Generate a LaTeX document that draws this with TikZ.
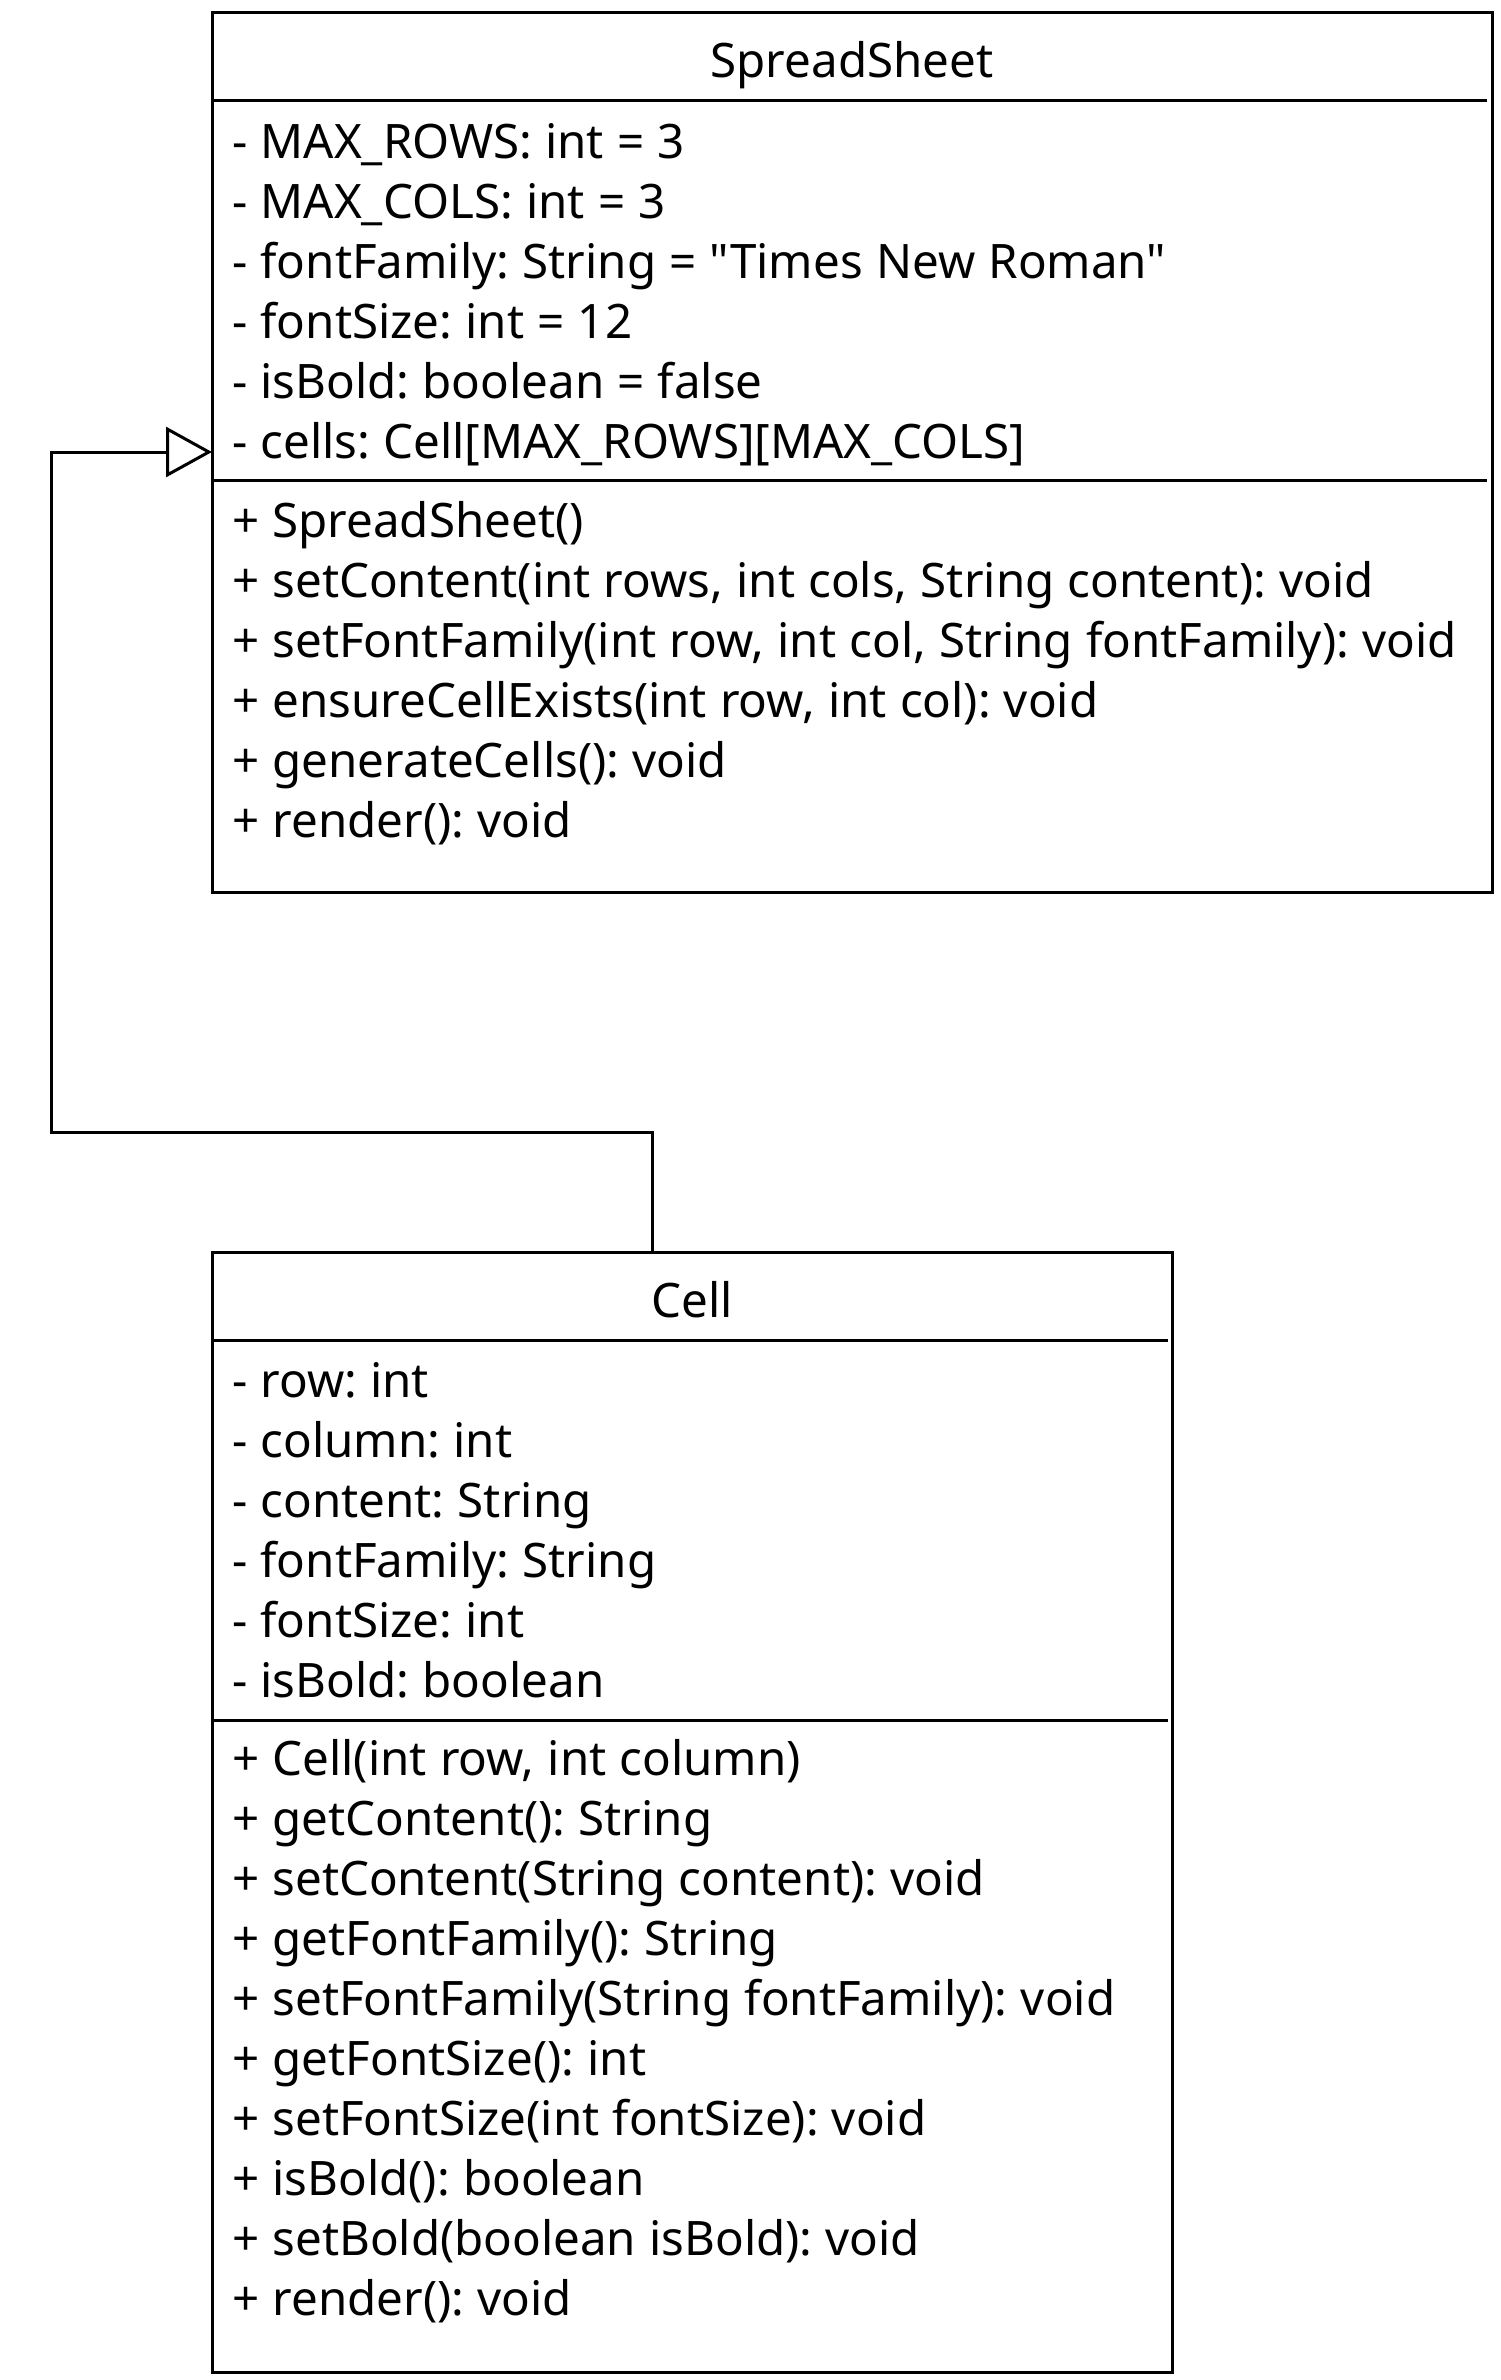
\documentclass[tikz,border=0pt]{standalone}
\usepackage{fontspec}
\setmainfont{Noto Sans}[Ligatures=TeXOff]
\usetikzlibrary{arrows.meta}
\frenchspacing
\newcommand\umlfont{\fontsize{47.5}{60}\selectfont\frenchspacing\spaceskip 13.2pt\relax}
\begin{document}
\begin{tikzpicture}[x=1pt,y=-1pt,
  box/.style={draw=black,line width=3pt,fill=white,rectangle,anchor=north west,inner sep=0pt,outer sep=0pt},
  sep/.style={draw=black,line width=3pt},
  txt/.style={anchor=base west,inner sep=0pt,font=\umlfont},
  ttl/.style={anchor=base,inner sep=0pt,font=\umlfont},
  conn/.style={draw=black,line width=3pt,line join=miter,-{Triangle[open,length=46pt,width=50pt,line width=3pt]}}]
\useasboundingbox (0,0) rectangle (1500,2380);
\fill[white] (0,0) rectangle (1500,2380);

% SpreadSheet class
\node[box,minimum width=1280pt,minimum height=880pt] (ss) at (212,12) {};
\draw[sep] (212,100) -- (1487,100);
\draw[sep] (212,480) -- (1487,480);
\node[ttl] (sst) at (852,77) {SpreadSheet};
\node[txt] (sa1) at (232,158) {- MAX\_ROWS: int = 3};
\node[txt] (sa2) at (232,218) {- MAX\_COLS: int = 3};
\node[txt] (sa3) at (232,278) {- fontFamily: String = "Times New Roman"};
\node[txt] (sa4) at (232,338) {- fontSize: int = 12};
\node[txt] (sa5) at (232,398) {- isBold: boolean = false};
\node[txt] (sa6) at (232,458) {- cells: Cell[MAX\_ROWS][MAX\_COLS]};
\node[txt] (sm1) at (232,537) {+ SpreadSheet()};
\node[txt] (sm2) at (232,597) {+ setContent(int rows, int cols, String content): void};
\node[txt] (sm3) at (232,657) {+ setFontFamily(int row, int col, String fontFamily): void};
\node[txt] (sm4) at (232,717) {+ ensureCellExists(int row, int col): void};
\node[txt] (sm5) at (232,777) {+ generateCells(): void};
\node[txt] (sm6) at (232,837) {+ render(): void};

% Cell class
\node[box,minimum width=960pt,minimum height=1120pt] (cell) at (212,1252) {};
\draw[sep] (212,1340) -- (1168,1340);
\draw[sep] (212,1720) -- (1168,1720);
\node[ttl] (ct) at (692,1317) {Cell};
\node[txt] (ca1) at (232,1397) {- row: int};
\node[txt] (ca2) at (232,1457) {- column: int};
\node[txt] (ca3) at (232,1517) {- content: String};
\node[txt] (ca4) at (232,1577) {- fontFamily: String};
\node[txt] (ca5) at (232,1637) {- fontSize: int};
\node[txt] (ca6) at (232,1697) {- isBold: boolean};
\node[txt] (cm1) at (232,1775) {+ Cell(int row, int column)};
\node[txt] (cm2) at (232,1835) {+ getContent(): String};
\node[txt] (cm3) at (232,1895) {+ setContent(String content): void};
\node[txt] (cm4) at (232,1955) {+ getFontFamily(): String};
\node[txt] (cm5) at (232,2015) {+ setFontFamily(String fontFamily): void};
\node[txt] (cm6) at (232,2075) {+ getFontSize(): int};
\node[txt] (cm7) at (232,2135) {+ setFontSize(int fontSize): void};
\node[txt] (cm8) at (232,2195) {+ isBold(): boolean};
\node[txt] (cm9) at (232,2255) {+ setBold(boolean isBold): void};
\node[txt] (cm10) at (232,2315) {+ render(): void};

% Generalization
\coordinate (b1) at (652,1132);
\coordinate (b2) at (51.5,1132);
\coordinate (b3) at (51.5,452);
\draw[conn] (b1 |- cell.north) -- (b1) -- (b2) -- (b3) -- (b3 -| ss.west);
\end{tikzpicture}
\end{document}
